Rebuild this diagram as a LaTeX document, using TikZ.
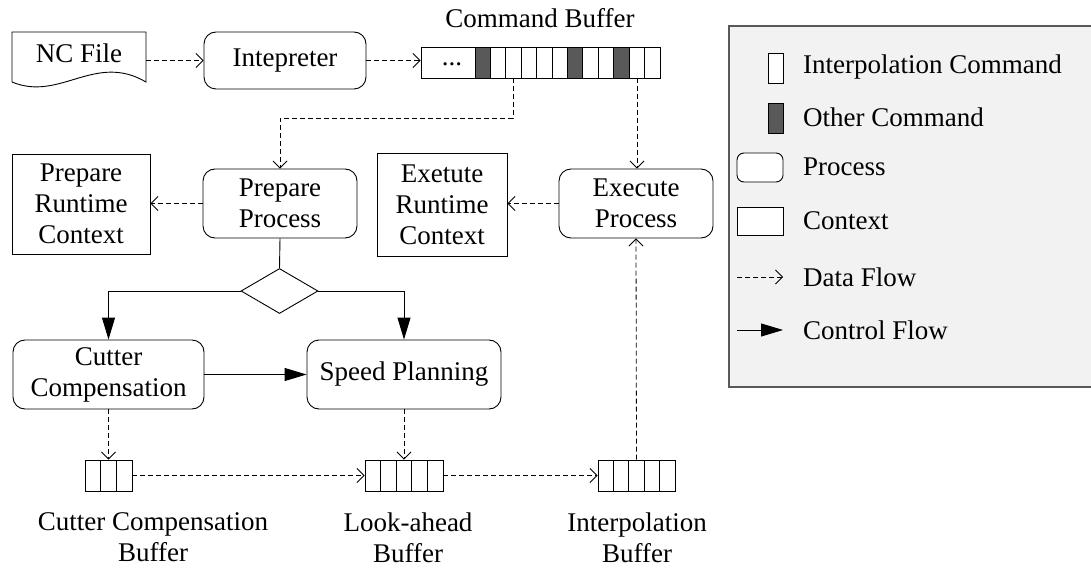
\documentclass[tikz,border=0pt]{standalone}
\usepackage{fontspec}
\setmainfont{Liberation Serif}
\usetikzlibrary{arrows.meta,shapes.geometric}
\begin{document}
\begin{tikzpicture}[x=1pt,y=-1pt,
 every node/.style={font=\fontsize{27}{31}\selectfont, inner sep=0pt},
 proc/.style={draw, rounded corners=12pt, line width=0.9pt, align=center},
 ctx/.style={draw, line width=0.9pt, align=center},
 data/.style={dash pattern=on 5pt off 3pt, line width=0.8pt, -{Straight Barb[length=7pt,width=14pt]}},
 ctrl/.style={line width=0.9pt, -{Triangle[length=22pt,width=13pt]}},
 plain/.style={line width=0.9pt},
 lbl/.style={align=center},
 buf/.style={draw, line width=0.9pt, minimum height=31pt},
 dark/.style={fill=black!65}
]
\useasboundingbox (0,0) rectangle (1091,569);

% Legend background
\draw[fill=black!5, draw=black!65, line width=1.3pt] (729,26) rectangle (1096,387);

% NC File
\draw[plain] (12,82) -- (12,32) -- (146,32) -- (146,82) .. controls (95,52) and (60,102) .. (12,82);
\node (nc) at (79,53) {NC File};
\coordinate (ncR) at (146,60.5);

% Interpreter
\node[proc, minimum width=162pt, minimum height=57pt] (ip) at (285,60.5) {Intepreter};

% Command buffer
\node[buf, minimum width=239pt] (cb) at (540.5,62.5) {};
\foreach \i in {0,...,11} \draw[plain] ({475+15.4167*\i},47) rectangle ++(15.4167,31);
\foreach \i in {0,6,9} \draw[plain, dark] ({475+15.4167*\i},47) rectangle ++(15.4167,31);
\node (dots) at (452,64) {...};
\node (cblbl) at (540,18) {Command Buffer};
\coordinate (cbA) at (513,78);
\coordinate (cbB) at (637,78);

% Processes and contexts
\node[ctx, minimum width=138pt, minimum height=100pt] (prc) at (81,204) {Prepare\\Runtime\\Context};
\node[proc, minimum width=154pt, minimum height=69pt] (pp) at (280,203.5) {Prepare\\Process};
\node[ctx, minimum width=130pt, minimum height=103pt] (erc) at (442,204.5) {Exetute\\Runtime\\Context};
\node[proc, minimum width=154pt, minimum height=69pt] (ep) at (636,203.5) {Execute\\Process};

\node[draw, diamond, line width=0.9pt, minimum width=77pt, minimum height=45pt] (dm) at (279.5,291) {};

\node[proc, minimum width=191pt, minimum height=69pt] (cc) at (108.5,374.5) {Cutter\\Compensation};
\node[proc, minimum width=194pt, minimum height=69pt] (sp) at (404,374.5) {Speed Planning};

% Small buffers
\node[buf, minimum width=47pt] (b1) at (108.5,475.5) {};
\foreach \i in {1,2} \draw[plain] ({85+15.667*\i},460) -- ++(0,31);
\node[buf, minimum width=78pt] (b2) at (404,475.5) {};
\foreach \i in {1,...,4} \draw[plain] ({365+15.6*\i},460) -- ++(0,31);
\node[buf, minimum width=77pt] (b3) at (636.5,475.5) {};
\foreach \i in {1,...,4} \draw[plain] ({598+15.4*\i},460) -- ++(0,31);

\node[lbl] (b1l) at (153,537) {Cutter Compensation\\Buffer};
\node[lbl] (b2l) at (408,538) {Look-ahead\\Buffer};
\node[lbl] (b3l) at (637,538) {Interpolation\\Buffer};

% Connectors
\draw[data] (ncR) -- (ip.west);
\draw[data] (ip.east) -- (ip.east -| cb.west);
\draw[data] (cbA) -- ++(0,40) -| (pp.north);
\draw[data] (cbB) -- (cbB |- ep.north);
\draw[data] (pp.west) -- (prc.east |- pp.west);
\draw[data] (ep.west) -- (erc.east |- ep.west);
\draw[plain] (pp.south) -- (dm.north);
\draw[ctrl] (dm.west) -| (cc.north);
\draw[ctrl] (dm.east) -| (sp.north);
\draw[ctrl] (cc.east) -- (sp.west);
\draw[data] (cc.south) -- (b1.north);
\draw[data] (sp.south) -- (b2.north);
\draw[data] (b1.east) -- (b2.west);
\draw[data] (b2.east) -- (b3.west);
\draw[data] (b3.north) -- (ep.south);

% Legend items
\node[draw, line width=0.9pt, fill=white, minimum width=15pt, minimum height=30pt] (li1) at (775.5,68) {};
\node[anchor=west] (lt1) at (803,67) {Interpolation Command};
\node[draw, line width=0.9pt, dark, minimum width=15pt, minimum height=30pt] (li2) at (775.5,118) {};
\node[anchor=west] (lt2) at (803,117) {Other Command};
\node[draw, line width=0.9pt, fill=white, rounded corners=7pt, minimum width=46pt, minimum height=29pt] (li3) at (760,167.5) {};
\node[anchor=west] (lt3) at (803,167) {Process};
\node[draw, line width=0.9pt, fill=white, minimum width=46pt, minimum height=28pt] (li4) at (760,221) {};
\node[anchor=west] (lt4) at (803,221) {Context};
\coordinate (ld1) at (737,277);
\coordinate (ld2) at (783,277);
\draw[data] (ld1) -- (ld2);
\node[anchor=west] (lt5) at (803,277) {Data Flow};
\coordinate (lc1) at (737,330);
\coordinate (lc2) at (783,330);
\draw[ctrl] (lc1) -- (lc2);
\node[anchor=west] (lt6) at (803,330) {Control Flow};
\end{tikzpicture}
\end{document}
